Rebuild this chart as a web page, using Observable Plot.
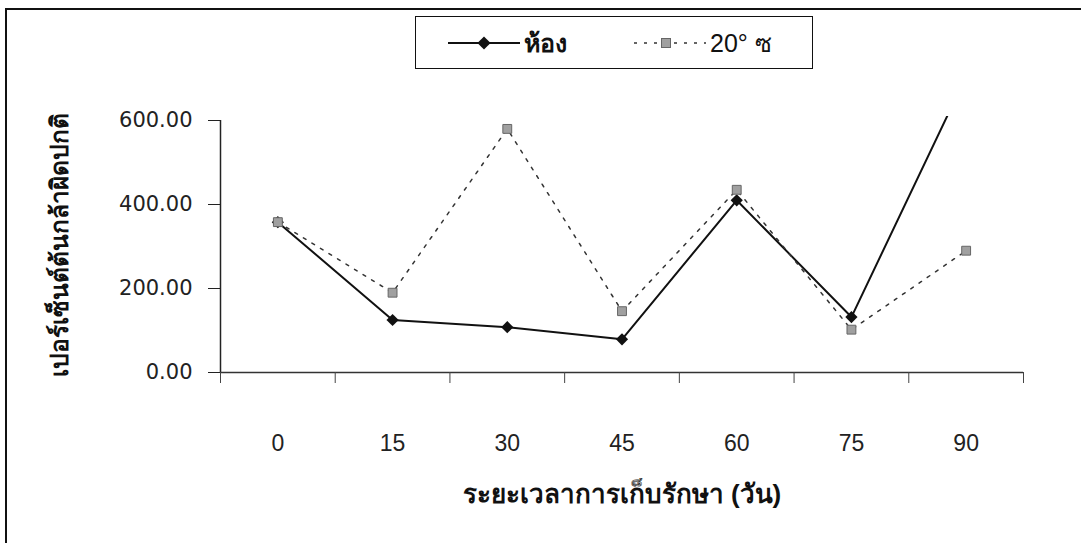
<!DOCTYPE html>
<html>
<head>
<meta charset="utf-8">
<script src="https://cdn.jsdelivr.net/npm/d3@7"></script>
<script src="https://cdn.jsdelivr.net/npm/@observablehq/plot@0.6"></script>
<style>
  html, body { margin: 0; padding: 0; background: #fff; }
  #wrap { position: relative; width: 1081px; height: 543px; overflow: hidden; background: #fff;
          font-family: "Liberation Sans", Arial, "Noto Sans", sans-serif; }
  #border { position: absolute; left: 5px; top: 8px; width: 1100px; height: 600px;
            border-top: 2px solid #111; border-left: 2px solid #111; }
  #chart { position: absolute; left: 0; top: 0; }
  #legend { position: absolute; left: 415px; top: 16px; width: 398px; height: 53px;
            border: 1.5px solid #111; background: #fff; box-sizing: border-box; }
  #legend .item { position: absolute; top: 0; height: 100%; display: flex; align-items: center; }
  #legend .lbl { font-size: 25px; color: #111; margin-left: 2px; }
  g[aria-label="y-axis label"] text { font-weight: bold; font-size: 24.5px; fill: #111; }
  g[aria-label="x-axis label"] text { font-weight: bold; font-size: 26px; fill: #111; }
</style>
</head>
<body>
<div id="wrap">
  <div id="border"></div>
  <div id="chart"></div>
  <div id="legend"></div>
</div>
<script>
// ---- data ----
const days = [0, 15, 30, 45, 60, 75, 90];
const roomValues = [358, 125, 108, 79, 410, 132, 705];
const coldValues = [358, 190, 580, 146, 435, 102, 290];
const yTicks = [0, 200, 400, 600];
const seriesNames = ["ห้อง", "20° ซ"];
const xTitle = "ระยะเวลาการเก็บรักษา (วัน)";
const yTitle = "เปอร์เซ็นต์ต้นกล้าผิดปกติ";

// ---- derived tables ----
const room = days.map((d, i) => ({day: d, value: roomValues[i]}));
const cold = days.map((d, i) => ({day: d, value: coldValues[i]}));
const step = days[1] - days[0];
const bounds = d3.range(days.length + 1).map(i => days[0] - step / 2 + i * step);

const chart = Plot.plot({
  width: 1081,
  height: 543,
  marginLeft: 220,
  marginRight: 58,
  marginTop: 116,
  marginBottom: 171,
  insetTop: 4,
  style: {fontFamily: '"Liberation Sans", Arial, sans-serif', background: "transparent", color: "#222"},
  x: {type: "linear", domain: [bounds[0], bounds[bounds.length - 1]]},
  y: {domain: [yTicks[0], yTicks[yTicks.length - 1]]},
  marks: [
    Plot.ruleX([bounds[0]], {y1: yTicks[0], y2: yTicks[yTicks.length - 1], stroke: "#222", strokeWidth: 1.5}),
    Plot.ruleY([0], {stroke: "#333", strokeWidth: 1.5}),
    Plot.axisY({ticks: yTicks, tickSize: 12, tickPadding: 16, tickFormat: d3.format(".2f"),
      fontSize: 21, fontFamily: '"DejaVu Sans", sans-serif', stroke: "#222",
      label: yTitle, labelAnchor: "center", labelArrow: "none", labelOffset: 170}),
    Plot.axisX({ticks: bounds, tickSize: 11, tickFormat: () => "", stroke: "#444", label: null}),
    Plot.axisX({ticks: days, tickSize: 0, tickPadding: 62, tickFormat: d => String(d),
      fontSize: 23, label: xTitle, labelAnchor: "center", labelArrow: "none", labelOffset: 130}),
    Plot.line(room, {x: "day", y: "value", stroke: "#111", strokeWidth: 2, clip: true}),
    Plot.dot(room, {x: "day", y: "value", symbol: "diamond2", r: 5.5, fill: "#111", stroke: "none", clip: true}),
    Plot.line(cold, {x: "day", y: "value", stroke: "#333", strokeWidth: 1.5, strokeDasharray: "3,7", clip: true}),
    Plot.dot(cold, {x: "day", y: "value", symbol: "square", r: 5, fill: "#a0a0a0", stroke: "#666", strokeWidth: 1, clip: true})
  ]
});
document.getElementById("chart").appendChild(chart);

// ---- legend ----
const legend = document.getElementById("legend");
const items = [
  {name: seriesNames[0], left: 32, dash: null, sym: "diamond"},
  {name: seriesNames[1], left: 218, dash: "3,7", sym: "square"}
];
items.forEach(it => {
  const div = document.createElement("div");
  div.className = "item";
  div.style.left = it.left + "px";
  const sw = d3.create("svg").attr("width", 74).attr("height", 20);
  sw.append("line").attr("x1", 0).attr("x2", 72).attr("y1", 10).attr("y2", 10)
    .attr("stroke", it.dash ? "#333" : "#111").attr("stroke-width", it.dash ? 1.5 : 2)
    .attr("stroke-dasharray", it.dash);
  if (it.sym === "diamond") {
    sw.append("path").attr("transform", "translate(36,10)")
      .attr("d", d3.symbol(d3.symbolDiamond2, 110)()).attr("fill", "#111");
  } else {
    sw.append("rect").attr("x", 27.5).attr("y", 5.5).attr("width", 9).attr("height", 9)
      .attr("fill", "#a0a0a0").attr("stroke", "#666");
  }
  div.appendChild(sw.node());
  const lbl = document.createElement("span");
  lbl.className = "lbl";
  lbl.textContent = it.name;
  if (it.sym === "diamond") lbl.style.fontWeight = "bold";
  div.appendChild(lbl);
  legend.appendChild(div);
});
</script>
</body>
</html>
